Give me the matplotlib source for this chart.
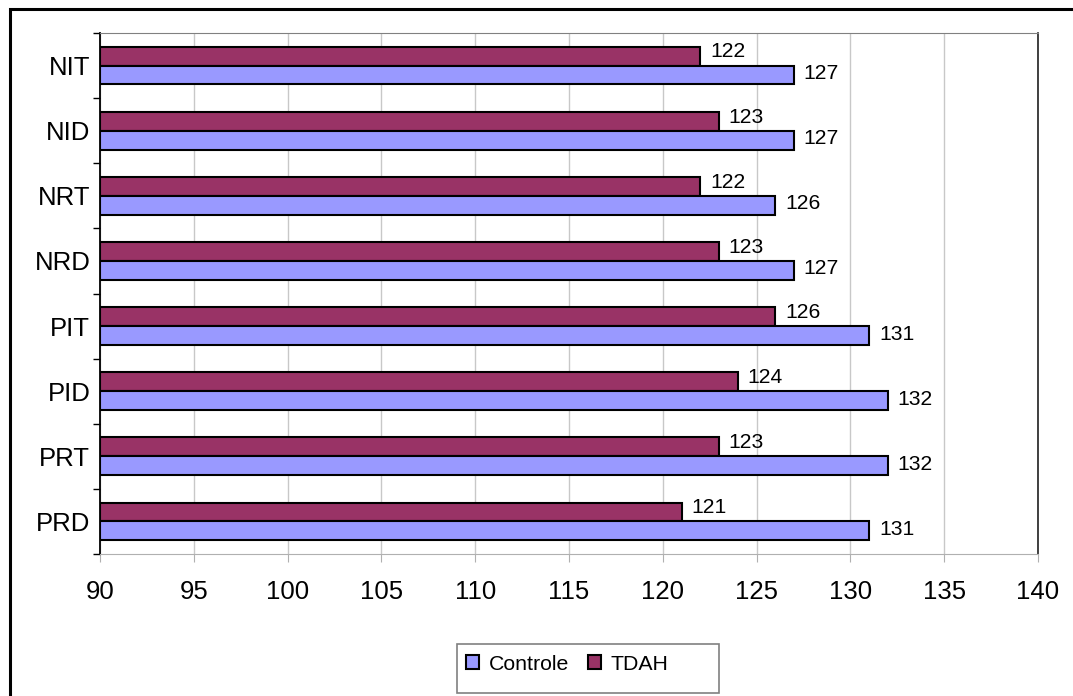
import numpy as np
import matplotlib.pyplot as plt
from matplotlib.patches import Rectangle

plt.rcParams['font.family'] = ['Liberation Sans', 'DejaVu Sans']

# categorias (de cima para baixo)
categorias = ['NIT', 'NID', 'NRT', 'NRD', 'PIT', 'PID', 'PRT', 'PRD']
controle = [127, 127, 126, 127, 131, 132, 132, 131]
tdah = [122, 123, 122, 123, 126, 124, 123, 121]
x_ticks = [90, 95, 100, 105, 110, 115, 120, 125, 130, 135, 140]

COR_CONTROLE = '#9999FF'
COR_TDAH = '#993366'

W, H = 1073, 696
fig = plt.figure(figsize=(W / 100, H / 100), dpi=100)
ax = fig.add_axes([100 / W, 1 - 554 / H, 938 / W, 521 / H])

# moldura externa do grafico
fig.patches.append(Rectangle((10 / W, -0.1), 1.2, 1 - 9 / H + 0.1,
                             transform=fig.transFigure, fill=False,
                             edgecolor='black', linewidth=2.2))

pos = np.arange(len(categorias))
h = 0.289
ax.barh(pos - h / 2, [v - 90 for v in tdah], h, left=90, color=COR_TDAH,
        edgecolor='black', linewidth=1.5, label='TDAH', zorder=3)
ax.barh(pos + h / 2, [v - 90 for v in controle], h, left=90, color=COR_CONTROLE,
        edgecolor='black', linewidth=1.5, label='Controle', zorder=3)

# rotulos com os valores
for i, (c, t) in enumerate(zip(controle, tdah)):
    ax.annotate(str(t), (t, i - h / 2), xytext=(7, 3), textcoords='offset points',
                va='center', ha='left', fontsize=15.2)
    ax.annotate(str(c), (c, i + h / 2), xytext=(7, 1), textcoords='offset points',
                va='center', ha='left', fontsize=15.2)

ax.set_xlim(90, 140)
ax.set_ylim(len(categorias) - 0.5, -0.5)
ax.set_xticks(x_ticks)
ax.tick_params(axis='x', labelsize=18.5, length=6, color='#b0b0b0', pad=13)
ax.grid(axis='x', color='#c8c8c8', linewidth=1, zorder=0)

ax.set_yticks(pos)
ax.set_yticklabels(categorias)
ax.set_yticks(np.arange(-0.5, len(categorias)), minor=True)
ax.tick_params(axis='y', which='major', length=0, labelsize=18.5, pad=7)
ax.tick_params(axis='y', which='minor', length=5, width=1, color='black')

ax.spines['left'].set_color('black')
ax.spines['left'].set_linewidth(1.3)
ax.spines['right'].set_color('#202020')
ax.spines['right'].set_linewidth(1.2)
ax.spines['top'].set_color('#808080')
ax.spines['bottom'].set_color('#b0b0b0')

# legenda: caixa desenhada a parte
fig.patches.append(Rectangle((457 / W, 1 - 693 / H), 262 / W, 49 / H,
                             transform=fig.transFigure, facecolor='white',
                             edgecolor='#808080', linewidth=1.2))
handles, labels = ax.get_legend_handles_labels()
leg = fig.legend(handles[::-1], labels[::-1], loc='center left',
                 bbox_to_anchor=(466 / W, 1 - 664 / H), ncol=2,
                 fontsize=15.3, frameon=False, borderpad=0, borderaxespad=0,
                 handlelength=0.62, handleheight=0.62, handletextpad=0.45,
                 columnspacing=0.9)

fig.savefig('out.png', dpi=100, facecolor='white')
